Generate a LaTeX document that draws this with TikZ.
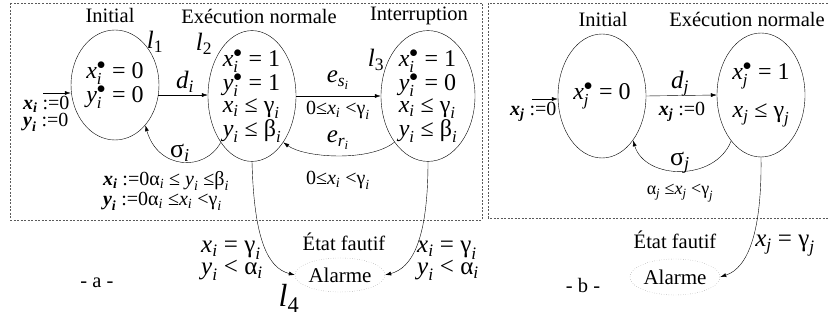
\documentclass[tikz,border=0pt]{standalone}
\usepackage{amsmath}
\usepackage{fontspec}
\setmainfont{Liberation Serif}
\usetikzlibrary{shapes.geometric, arrows.meta, positioning}
\definecolor{boxgray}{RGB}{90, 90, 90}
\newcommand{\subv}[2]{\ensuremath{\textit{#1}_{\textit{#2}}}}
\newcommand{\locv}[1]{\ensuremath{\textit{l}_{\textrm{#1}}}}
\newcommand{\dotv}[2]{\ensuremath{\textit{#1}^{\bullet}_{\textit{#2}}}}
\newcommand{\boldv}[2]{\ensuremath{\textbf{\textit{#1}}_{\textbf{\textit{#2}}}}}
\newcommand{\grk}[2]{\ensuremath{\textrm{#1}_{\textit{#2}}}}

\begin{document}
\begin{tikzpicture}[x=1pt, y=1pt,
    state/.style={draw, ellipse, inner sep=0pt, align=left, font=\fontsize{24}{22}\selectfont},
    fault/.style={draw=gray, dotted, ellipse, inner sep=0pt, font=\fontsize{21}{22}\selectfont},
    title/.style={font=\fontsize{20.5}{22}\selectfont},
    loc/.style={font=\fontsize{25}{26}\selectfont},
    guard/.style={font=\fontsize{20}{13}\selectfont, align=left},
    big/.style={font=\fontsize{25}{18}\selectfont, align=left},
    dashbox/.style={draw=boxgray, dash pattern=on 2pt off 1.5pt},
    trans/.style={-{Latex[length=6pt, width=4pt]}}]
  \useasboundingbox (0,0) rectangle (828,-320);

  % frames
  \draw[dashbox] (10,-3) rectangle (482,-220);
  \draw[dashbox] (488,-3) rectangle (840,-218);

  % -a- : locations
  \node[state, minimum width=88, minimum height=110] (l1) at (115,-85)
    {\dotv{x}{i} = 0\\ \dotv{y}{i} = 0};
  \node[state, minimum width=88, minimum height=122] (l2) at (252,-96)
    {\dotv{x}{i} = 1\\ \dotv{y}{i} = 1\\ \subv{x}{i} ≤ \grk{γ}{i}\\ \subv{y}{i} ≤ \grk{β}{i}};
  \node[state, minimum width=94, minimum height=122] (l3) at (428,-96)
    {\dotv{x}{i} = 1\\ \dotv{y}{i} = 0\\ \subv{x}{i} ≤ \grk{γ}{i}\\ \subv{y}{i} ≤ \grk{β}{i}};
  \node[fault, minimum width=90, minimum height=34] (l4) at (340,-275) {Alarme};

  \node[title] (t1) at (110,-15) {Initial};
  \node[title] (t2) at (259,-16) {Exécution normale};
  \node[title] (t3) at (419,-16) {Interruption};
  \node[title] (t4) at (344,-242) {État fautif};
  \node[title] (ta) at (97,-283) {- a -};

  \node[loc] (n1) at (155,-42) {\locv{1}};
  \node[loc] (n2) at (204,-44) {\locv{2}};
  \node[loc] (n3) at (376,-60) {\locv{3}};
  \node[font=\fontsize{32}{32}\selectfont] (n4) at (289,-298) {\locv{4}};

  % -a- : transitions
  \coordinate (s1) at (43,-93);
  \draw[trans] (s1) -- (s1 -| l1.west);
  \node[guard, anchor=east] (a1) at (73,-114)
    {\boldv{x}{i} :=0\\ \boldv{y}{i} :=0};
  \draw[trans] (l1.347) -- (l1.347 -| l2.west);
  \node[big] (d1) at (185,-82) {\subv{d}{i}};
  \draw[trans] (l2.east) -- (l3.west);
  \node[big] (es) at (338,-80) {\ensuremath{\textit{e}_{\textit{s}_{\textit{i}}}}};
  \node[guard] (g1) at (338,-110) {0≤\subv{x}{i} <\grk{γ}{i}};
  \draw[trans] (l3.234) .. controls (370,-162) and (305,-158) .. (l2.304);
  \node[big] (er) at (338,-140) {\ensuremath{\textit{e}_{\textit{r}_{\textit{i}}}}};
  \node[guard] (g2) at (338,-180) {0≤\subv{x}{i} <\grk{γ}{i}};
  \draw[trans] (l2.236) .. controls (205,-172) and (158,-170) .. (l1.307);
  \node[font=\fontsize{26}{26}\selectfont] (s1l) at (180,-153) {\grk{σ}{i}};
  \node[guard] (g3) at (166,-191)
    {\boldv{x}{i} :=0\grk{α}{i} ≤ \subv{y}{i} ≤\grk{β}{i}\\ \boldv{y}{i} :=0\grk{α}{i} ≤\subv{x}{i} <\grk{γ}{i}};
  \draw[trans] (l2.south) .. controls (254,-240) and (268,-268) .. (l4.west);
  \draw[trans] (l3.south) .. controls (428,-240) and (412,-268) .. (l4.east);
  \node[big] (f1) at (232,-261) {\subv{x}{i} = \grk{γ}{i}\\ \subv{y}{i} < \grk{α}{i}};
  \node[big] (f2) at (448,-261) {\subv{x}{i} = \grk{γ}{i}\\ \subv{y}{i} < \grk{α}{i}};

  % -b- : locations
  \node[state, minimum width=88, minimum height=124] (m1) at (602,-96) {\dotv{x}{j} = 0};
  \node[state, minimum width=88, minimum height=124, align=center] (m2) at (761,-95)
    {\dotv{x}{j} = 1\\[14pt] \subv{x}{j} ≤ \grk{γ}{j}};
  \node[fault, minimum width=90, minimum height=36] (m3) at (675,-277) {Alarme};

  \node[title] (u1) at (603,-19) {Initial};
  \node[title] (u2) at (747,-19) {Exécution normale};
  \node[title] (u3) at (675,-240) {État fautif};
  \node[title] (tb) at (583,-285) {- b -};

  % -b- : transitions
  \coordinate (s2) at (532,-99);
  \draw[trans] (s2) -- (s2 -| m1.west);
  \node[guard, anchor=east] (b1) at (560,-112) {\boldv{x}{j} :=0};
  \draw[trans] (m1.east) -- (m2.west);
  \node[big] (dj) at (680,-84) {\subv{d}{j}};
  \node[guard] (b2) at (682,-112) {\boldv{x}{j} :=0};
  \draw[trans] (m2.237) .. controls (715,-182) and (645,-180) .. (m1.305);
  \node[font=\fontsize{26}{26}\selectfont] (sjl) at (680,-163) {\grk{σ}{j}};
  \node[guard, font=\fontsize{18}{13}\selectfont] (g4) at (680,-193) {\grk{α}{j} ≤\subv{x}{j} <\grk{γ}{j}};
  \draw[trans] (m2.south) .. controls (762,-232) and (748,-268) .. (m3.east);
  \node[big] (f3) at (785,-246) {\subv{x}{j} = \grk{γ}{j}};
\end{tikzpicture}
\end{document}
